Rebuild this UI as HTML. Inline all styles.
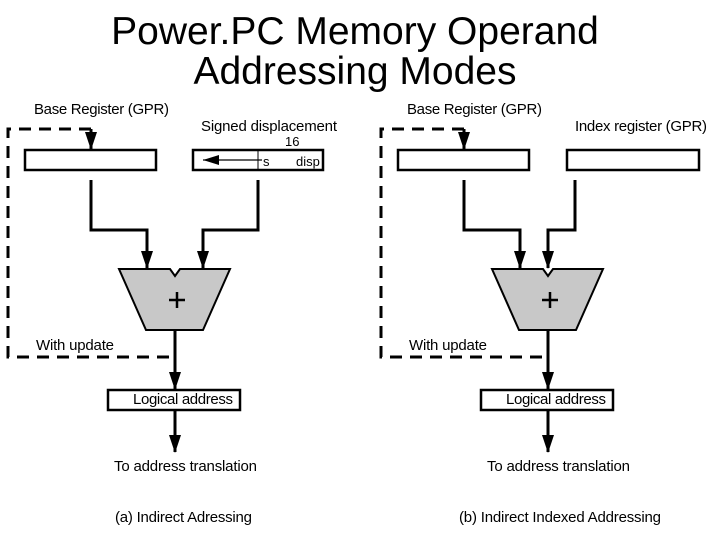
<!DOCTYPE html>
<html><head><style>
body{margin:0;background:#fff;width:720px;height:540px;overflow:hidden;font-family:"Liberation Sans",sans-serif}
.t{position:absolute;left:0;width:710px;text-align:center;font-size:39px;line-height:40px;color:#000}
</style></head><body>
<div class="t" style="top:12px">Power.PC Memory Operand<br>Addressing Modes</div>
<svg width="720" height="540" style="position:absolute;left:0;top:0" font-family="Liberation Sans, sans-serif" font-size="15">
<defs><marker id="a" markerWidth="18" markerHeight="12" refX="17" refY="6" orient="auto" markerUnits="userSpaceOnUse"><path d="M0,0 L18,6 L0,12z" fill="#000"/></marker>
<marker id="b" markerWidth="16" markerHeight="10" refX="16" refY="5" orient="auto" markerUnits="userSpaceOnUse"><path d="M0,0 L16,5 L0,10z" fill="#000"/></marker></defs>
<g id="L" stroke="#000" stroke-width="3" fill="none">
<polyline points="91,129 8,129 8,357 175,357" stroke-dasharray="12,8"/>
<line x1="91" y1="129" x2="91" y2="149" marker-end="url(#a)"/>
<rect x="25" y="150" width="131" height="20" stroke-width="2.5"/>
<polyline points="91,180 91,230 147,230 147,268" marker-end="url(#a)"/>
<polyline points="175,330 175,389" marker-end="url(#a)"/>
<rect x="108" y="390" width="132" height="20" stroke-width="2.5"/>
<line x1="175" y1="410" x2="175" y2="452" marker-end="url(#a)"/>
<path d="M119,269 L170,269 L175,276 L180,269 L230,269 L203,330 L146,330z" fill="#c8c8c8" stroke-width="2"/>
<path d="M177,292v16M169,300h16" stroke-width="2.5"/>
</g>
<g stroke="#000" stroke-width="3" fill="none">
<rect x="193" y="150" width="130" height="20" stroke-width="2.5"/>
<line x1="258" y1="150" x2="258" y2="170" stroke-width="1"/>
<line x1="262" y1="160" x2="203" y2="160" stroke-width="1.3" marker-end="url(#b)"/>
<polyline points="258,180 258,230 203,230 203,268" marker-end="url(#a)"/>
</g>
<g transform="translate(373,0)">
<use href="#L"/>
<g stroke="#000" stroke-width="3" fill="none">
<rect x="194" y="150" width="132" height="20" stroke-width="2.5"/>
<polyline points="202,180 202,230 175,230 175,268" marker-end="url(#a)"/>
</g>
</g>
<g fill="#000">
<text x="34" y="114" textLength="135">Base Register (GPR)</text>
<text x="201" y="131" textLength="136">Signed displacement</text>
<text x="285" y="146" font-size="13">16</text>
<text x="263" y="166" font-size="13">s</text>
<text x="296" y="166" font-size="13">disp</text>
<text x="36" y="350" textLength="78">With update</text>
<text x="133" y="404" textLength="100">Logical address</text>
<text x="114" y="471" textLength="143">To address translation</text>
<text x="115" y="522" textLength="137">(a) Indirect Adressing</text>
<text x="407" y="114" textLength="135">Base Register (GPR)</text>
<text x="575" y="131" textLength="132">Index register (GPR)</text>
<text x="409" y="350" textLength="78">With update</text>
<text x="506" y="404" textLength="100">Logical address</text>
<text x="487" y="471" textLength="143">To address translation</text>
<text x="459" y="522" textLength="202">(b) Indirect Indexed Addressing</text>
</g>
</svg>
</body></html>
